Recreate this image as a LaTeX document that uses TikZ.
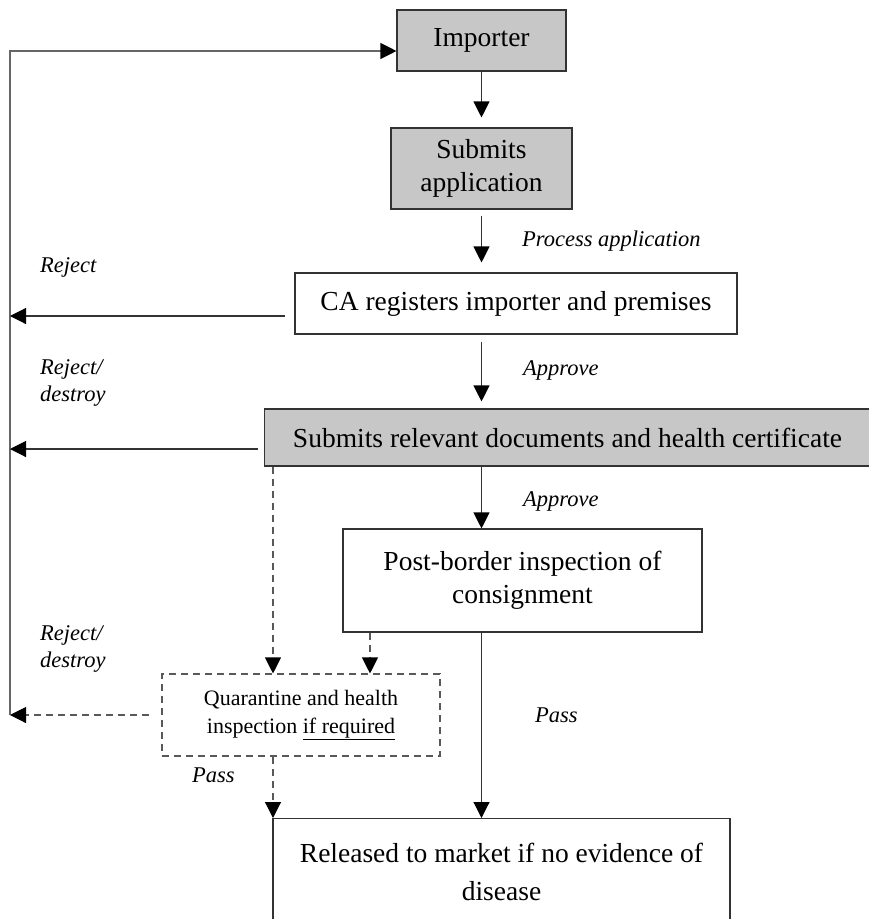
\documentclass[tikz,border=0pt]{standalone}
\usepackage{fontspec}
\setmainfont{Liberation Serif}
\usetikzlibrary{arrows.meta}
\begin{document}
\begin{tikzpicture}[x=1pt,y=-1pt,
  box/.style={draw=black!80, line width=1.1pt, align=center, inner sep=0pt, font=\fontsize{27.5}{33}\selectfont},
  greybox/.style={box, fill=black!22},
  dbox/.style={box, dash pattern=on 7pt off 5pt, draw=black!65, font=\fontsize{22}{28}\selectfont},
  lbl/.style={font=\itshape\fontsize{22.5}{27}\selectfont, anchor=west, align=left, inner sep=0pt},
  conn/.style={line width=1.1pt, draw=black!80, -{Triangle[length=16pt,width=16pt,black]}},
  dconn/.style={conn, dash pattern=on 7pt off 5pt, draw=black!65},
]
\useasboundingbox (0,0) rectangle (869,919);
\node[greybox, minimum width=169, minimum height=61] (imp) at (481.5,40.5) {Importer};
\node[greybox, minimum width=181, minimum height=81] (sub) at (481.5,168.5) {Submits\\application};
\node[box, minimum width=442, minimum height=61] (ca) at (516,303.5) {CA registers importer and premises};
\node[greybox, minimum width=606, minimum height=57] (doc) at (567.5,437.5) {Submits relevant documents and health certificate};
\node[box, minimum width=359, minimum height=103] (pb) at (522.5,580.5) {Post-border inspection of\\consignment};
\node[dbox, minimum width=278, minimum height=82] (qu) at (301,715) {Quarantine and health\\inspection \underline{if required}};
\node[box, minimum width=457, minimum height=106, anchor=north, font=\fontsize{27.5}{38}\selectfont] (rel) at (501.5,818) {Released to market if no evidence of\\disease};

% left return line
\coordinate (lt) at (10,51);
\coordinate (lb) at (10,715);
\coordinate (lca) at (10,316);
\coordinate (ldoc) at (10,449);
\coordinate (sca) at (295,316);
\coordinate (sdoc) at (265,449);
\draw[conn, draw=black!60] (lb) -- (lt) -- (lt -| imp.west);
\draw[conn, shorten <=10pt] (sca) -- (lca);
\draw[conn, shorten <=7pt] (sdoc) -- (ldoc);
\draw[dconn, shorten <=12pt] (qu.west) -- (lb);

% main column
\draw[conn, shorten >=10pt] (imp.south) -- (sub.north);
\draw[conn, shorten <=6pt, shorten >=10pt] (sub.south) -- (sub.south |- ca.north);
\draw[conn, shorten <=7pt, shorten >=7pt] (sub.south |- ca.south) -- (sub.south |- doc.north);
\draw[conn] (sub.south |- doc.south) -- (sub.south |- pb.north);
\draw[conn] (sub.south |- pb.south) -- (sub.south |- rel.north);

% dashed branches
\coordinate (dq) at (273,0);
\coordinate (pq) at (370,0);
\draw[dconn] (dq |- doc.south) -- (dq |- qu.north);
\draw[dconn] (pq |- pb.south) -- (pq |- qu.north);
\draw[dconn] (dq |- qu.south) -- (dq |- rel.north);

% labels
\node[lbl] (l1) at (522,241) {Process application};
\node[lbl] (l2) at (523,370) {Approve};
\node[lbl] (l3) at (523,501) {Approve};
\node[lbl] (l4) at (535,715) {Pass};
\node[lbl] (l5) at (192,775) {Pass};
\node[lbl] (l6) at (40,267) {Reject};
\node[lbl] (l7) at (40,383) {Reject/\\destroy};
\node[lbl] (l8) at (40,649) {Reject/\\destroy};
\end{tikzpicture}
\end{document}
